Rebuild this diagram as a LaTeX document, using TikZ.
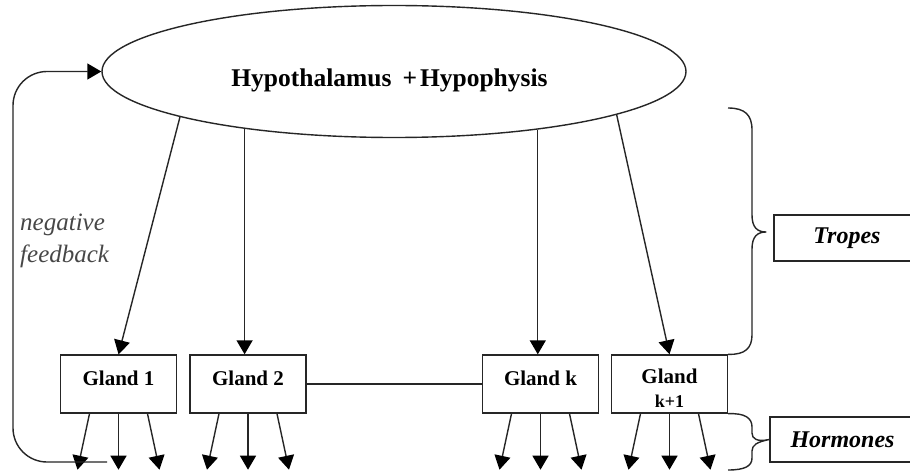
\documentclass[tikz,border=0pt]{standalone}
\usepackage{fontspec}
\setmainfont{Liberation Serif}
\usetikzlibrary{arrows.meta,shapes.geometric}
\begin{document}
\begin{tikzpicture}[x=1pt,y=-1pt,
  ln/.style={draw=black!85, line width=1.4pt},
  arr/.style={ln, -{Triangle[width=16pt,length=14pt,fill=black,color=black]}},
  gland/.style={ln, rectangle, minimum width=116pt, minimum height=58pt, inner sep=0pt,
    font=\fontsize{21}{23}\selectfont\bfseries},
  lifted/.style={text depth=12pt},
  tag/.style={ln, rectangle, minimum width=146pt, minimum height=46pt, inner sep=0pt,
    font=\fontsize{24}{26}\selectfont\bfseries\itshape},
  bracepath/.style={ln, line join=round}]
\useasboundingbox (0,0) rectangle (910,473);
\clip (0,0) rectangle (910,473);
\fill[white] (0,0) rectangle (910,473);

% hypothalamus ellipse
\node[ellipse, ln, minimum width=584pt, minimum height=132pt, inner sep=0pt] (hyp) at (394,71.5) {};
\node[font=\fontsize{25.5}{28}\selectfont\bfseries, anchor=base, inner sep=0pt] (hyptext) at (389.5,87)
  {Hypothalamus\hspace{11pt}+\hspace{3pt}Hypophysis};

% glands
\node[gland, lifted] (g1) at (118.5,384) {Gland 1};
\node[gland, lifted] (g2) at (248,384) {Gland 2};
\node[gland, lifted] (gk) at (540.5,384) {Gland k};
\node[gland, align=center] (gk1) at (669.5,384)
  {\rule{0pt}{22pt}Gland\\[1pt]{\fontsize{18}{18}\selectfont k+1}};

% tropes
\draw[arr] (hyp.192.7) -- (g1.north);
\draw[arr] (hyp.201.2) -- (hyp.201.2 |- g2.north);
\draw[arr] (hyp.338.7) -- (hyp.338.7 |- gk.north);
\draw[arr] (hyp.349) -- (gk1.north);

% link between glands
\draw[ln] (g2.east) -- (gk.west);

% hormones
\foreach \g in {g1,g2,gk,gk1}{
  \coordinate (\g-l) at ([shift={(-41,56)}]\g.south);
  \coordinate (\g-c) at ([shift={(0,56)}]\g.south);
  \coordinate (\g-r) at ([shift={(41,56)}]\g.south);
  \draw[arr] ([xshift=-29pt]\g.south) -- (\g-l);
  \draw[arr] (\g.south) -- (\g-c);
  \draw[arr] ([xshift=29pt]\g.south) -- (\g-r);
}

% negative feedback
\coordinate (fb0) at (107,462);
\coordinate (fbx) at (13,300);
\draw[arr, rounded corners=34pt] (fb0) -| (fbx) |- (hyp.west);
\node[font=\fontsize{25}{32}\selectfont\itshape, text=black!72, align=left, anchor=base west, inner sep=0pt]
  (nf) at (20,262) {negative\\feedback};

% labels
\node[tag] (tropes) at (847,238) {Tropes};
\node[tag, minimum width=145pt, minimum height=45pt] (horm) at (842.5,439.5) {Hormones};

% braces
\coordinate (trtop) at (728,108);
\coordinate (trtip) at (766,232);
\draw[bracepath] (gk1.north east) .. controls (745,355) and (752,348) .. (752,335) -- (752,249)
  .. controls (752,237) and (757,232) .. (trtip)
  .. controls (757,232) and (752,227) .. (752,215) -- (752,130)
  .. controls (752,115) and (745,108) .. (trtop);
\coordinate (hobot) at (728,470);
\draw[bracepath] (gk1.south east) .. controls (745,413) and (752,418) .. (752,427) -- (752,433)
  .. controls (752,439) and (757,442) .. (horm.west)
  (horm.west) .. controls (757,442) and (752,445) .. (752,451) -- (752,458)
  .. controls (752,466) and (745,470) .. (hobot);
\end{tikzpicture}
\end{document}
